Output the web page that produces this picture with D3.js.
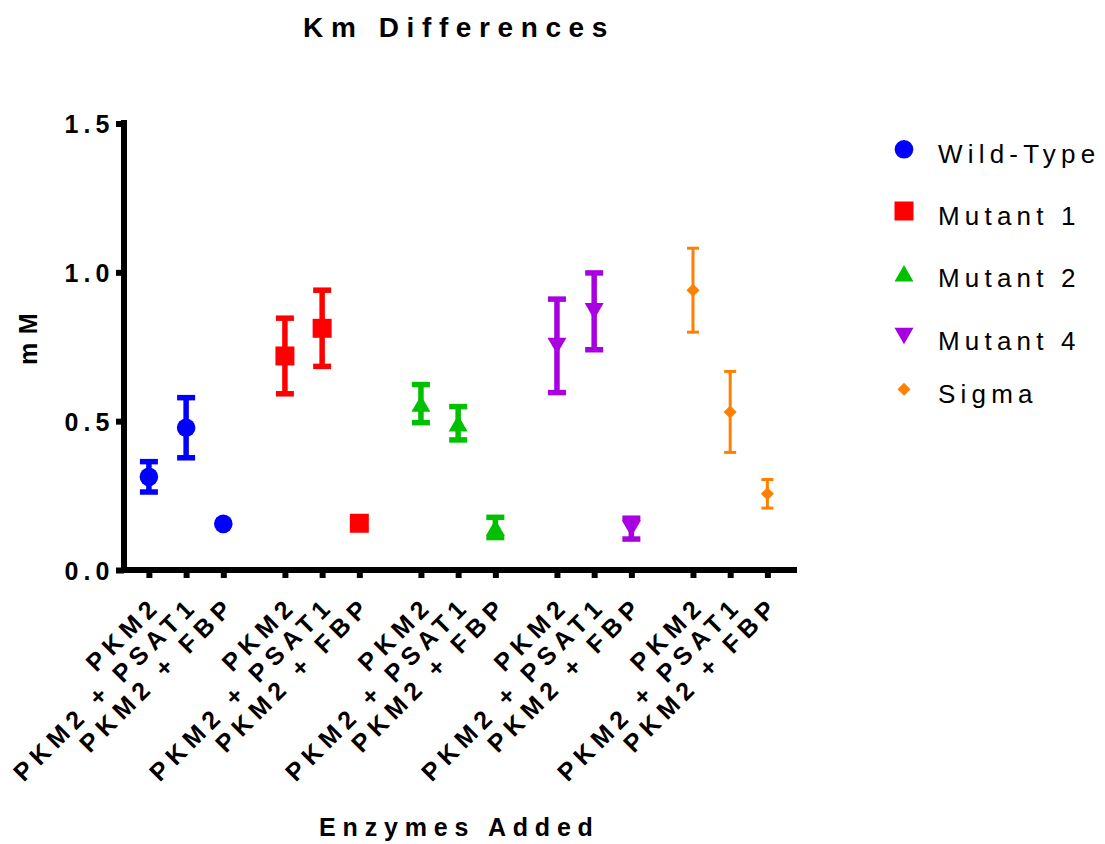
<!DOCTYPE html>
<html>
<head>
<meta charset="utf-8">
<script src="https://cdn.jsdelivr.net/npm/d3@7"></script>
<style>
  body { margin: 0; background: #fff; }
  text { font-family: "Liberation Sans", Arial, sans-serif; fill: #000; }
</style>
</head>
<body>
<svg id="chart" width="1105" height="844"></svg>
<script>
// Km per enzyme variant, for each assay condition (mean and error, mM)
const groups = ["Wild-Type", "Mutant 1", "Mutant 2", "Mutant 4", "Sigma"];
const conditions = ["PKM2", "PKM2 + PSAT1", "PKM2 + FBP"];

const wildTypeMean = [0.313, 0.478, 0.155];
const wildTypeErr  = [0.051, 0.101, 0];
const mutant1Mean  = [0.719, 0.812, 0.157];
const mutant1Err   = [0.127, 0.128, 0];
const mutant2Mean  = [0.559, 0.493, 0.143];
const mutant2Err   = [0.064, 0.056, 0.034];
const mutant4Mean  = [0.753, 0.869, 0.139];
const mutant4Err   = [0.157, 0.129, 0.035];
const sigmaMean    = [0.940, 0.531, 0.256];
const sigmaErr     = [0.141, 0.136, 0.048];

const yTicks = [0, 0.5, 1.0, 1.5];

const means = [wildTypeMean, mutant1Mean, mutant2Mean, mutant4Mean, sigmaMean];
const errs  = [wildTypeErr, mutant1Err, mutant2Err, mutant4Err, sigmaErr];

// Series styling
const colors  = ["#0000ff", "#ff0000", "#00c000", "#a800e0", "#ff8000"];
const shapes  = ["circle", "square", "triangle", "triangleDown", "diamond"];
const barW    = [5.5, 5.5, 5.5, 5.5, 3];   // error bar stroke width
const capHalf = [9, 9, 9, 9, 6];           // half width of error bar caps

const svg = d3.select("#chart");

const y = d3.scaleLinear().domain([0, 1.5]).range([570, 123.5]);
// Conditions sit one slot apart; groups are separated by an extra gap
const groupStep = 3.656;
const slot = (g, j) => g * groupStep + j;
const x = d3.scaleLinear().domain([-0.75, 17.42]).range([121, 797]);

const slots = [];
groups.forEach((g, gi) => conditions.forEach((c, ci) => slots.push(slot(gi, ci))));

function symbolPath(shape) {
  switch (shape) {
    case "circle":   return { d: d3.symbol(d3.symbolCircle, 272)(), t: "" };
    case "square":   return { d: d3.symbol(d3.symbolSquare, 361)(), t: "" };
    case "triangle": return { d: d3.symbol(d3.symbolTriangle, 156)(), t: "translate(0,2.74)" };
    case "triangleDown": return { d: d3.symbol(d3.symbolTriangle, 156)(), t: "translate(0,-2.74) rotate(180)" };
    case "diamond":  return { d: d3.symbol(d3.symbolSquare, 85)(), t: "rotate(45)" };
  }
}

// Title
svg.append("text")
  .attr("x", 459).attr("y", 36.7)
  .attr("text-anchor", "middle")
  .attr("font-size", 28).attr("font-weight", "bold")
  .attr("letter-spacing", 7.6)
  .text("Km Differences");

// Y axis
const yAxis = svg.append("g")
  .attr("transform", "translate(124,0)")
  .call(d3.axisLeft(y).tickValues(yTicks).tickFormat(d3.format(".1f")).tickSize(8).tickSizeOuter(0));
yAxis.select(".domain").remove();
yAxis.selectAll(".tick line").attr("stroke", "#000").attr("stroke-width", 6);
yAxis.selectAll(".tick text")
  .attr("x", -9.7).attr("dy", "0.36em")
  .attr("font-size", 25).attr("font-weight", "bold")
  .attr("letter-spacing", 5)
  .attr("font-family", null);

// X axis
const xAxis = svg.append("g")
  .attr("transform", "translate(0,570)")
  .call(d3.axisBottom(x).tickValues(slots).tickFormat((d, i) => conditions[i % 3]).tickSize(8).tickSizeOuter(0));
xAxis.select(".domain").remove();
xAxis.selectAll(".tick line").attr("stroke", "#000").attr("stroke-width", 6);
xAxis.selectAll(".tick text")
  .attr("x", 0).attr("y", 0).attr("dy", null)
  .attr("text-anchor", "end")
  .attr("transform", "translate(13,37) rotate(-45)")
  .attr("font-size", 25).attr("font-weight", "bold")
  .attr("letter-spacing", 6)
  .attr("font-family", null);

// Axis lines
svg.append("line")
  .attr("x1", 124).attr("x2", 124)
  .attr("y1", y(1.5) - 3.5).attr("y2", y(0) + 3)
  .attr("stroke", "#000").attr("stroke-width", 6);
svg.append("line")
  .attr("x1", x.range()[0]).attr("x2", x.range()[1])
  .attr("y1", y(0)).attr("y2", y(0))
  .attr("stroke", "#000").attr("stroke-width", 6);

// Axis titles
svg.append("text")
  .attr("transform", `translate(37.3,335) rotate(-90)`)
  .attr("text-anchor", "middle")
  .attr("font-size", 25).attr("font-weight", "bold")
  .attr("letter-spacing", 8.4)
  .text("mM");
svg.append("text")
  .attr("x", 459.4).attr("y", 836)
  .attr("text-anchor", "middle")
  .attr("font-size", 25).attr("font-weight", "bold")
  .attr("letter-spacing", 6.8)
  .text("Enzymes Added");

// Error bars and points
const plot = svg.append("g");
groups.forEach((name, gi) => {
  const g = plot.append("g").attr("stroke", colors[gi]).attr("fill", colors[gi]);
  conditions.forEach((c, ci) => {
    const m = means[gi][ci], e = errs[gi][ci];
    const cx = x(slot(gi, ci));
    if (e > 0) {
      const bars = g.append("g").attr("stroke-width", barW[gi]).attr("fill", "none");
      bars.append("line").attr("x1", cx).attr("x2", cx).attr("y1", y(m - e)).attr("y2", y(m + e));
      [m - e, m + e].forEach(v => {
        bars.append("line")
          .attr("x1", cx - capHalf[gi]).attr("x2", cx + capHalf[gi])
          .attr("y1", y(v)).attr("y2", y(v));
      });
    }
  });
  conditions.forEach((c, ci) => {
    const m = means[gi][ci];
    const sp = symbolPath(shapes[gi]);
    g.append("path")
      .attr("d", sp.d)
      .attr("stroke", "none")
      .attr("transform", `translate(${x(slot(gi, ci))},${y(m)}) ${sp.t}`);
  });
});

// Legend
const legendBaselines = [163.3, 225, 287.3, 350, 403.3];
const legend = svg.append("g");
groups.forEach((name, gi) => {
  const by = legendBaselines[gi];
  const sp = symbolPath(shapes[gi]);
  legend.append("path")
    .attr("d", sp.d)
    .attr("fill", colors[gi])
    .attr("transform", `translate(904,${by - 14}) ${sp.t}`);
  legend.append("text")
    .attr("x", 938).attr("y", by)
    .attr("font-size", 26)
    .attr("letter-spacing", 5.2)
    .text(name);
});
</script>
</body>
</html>
